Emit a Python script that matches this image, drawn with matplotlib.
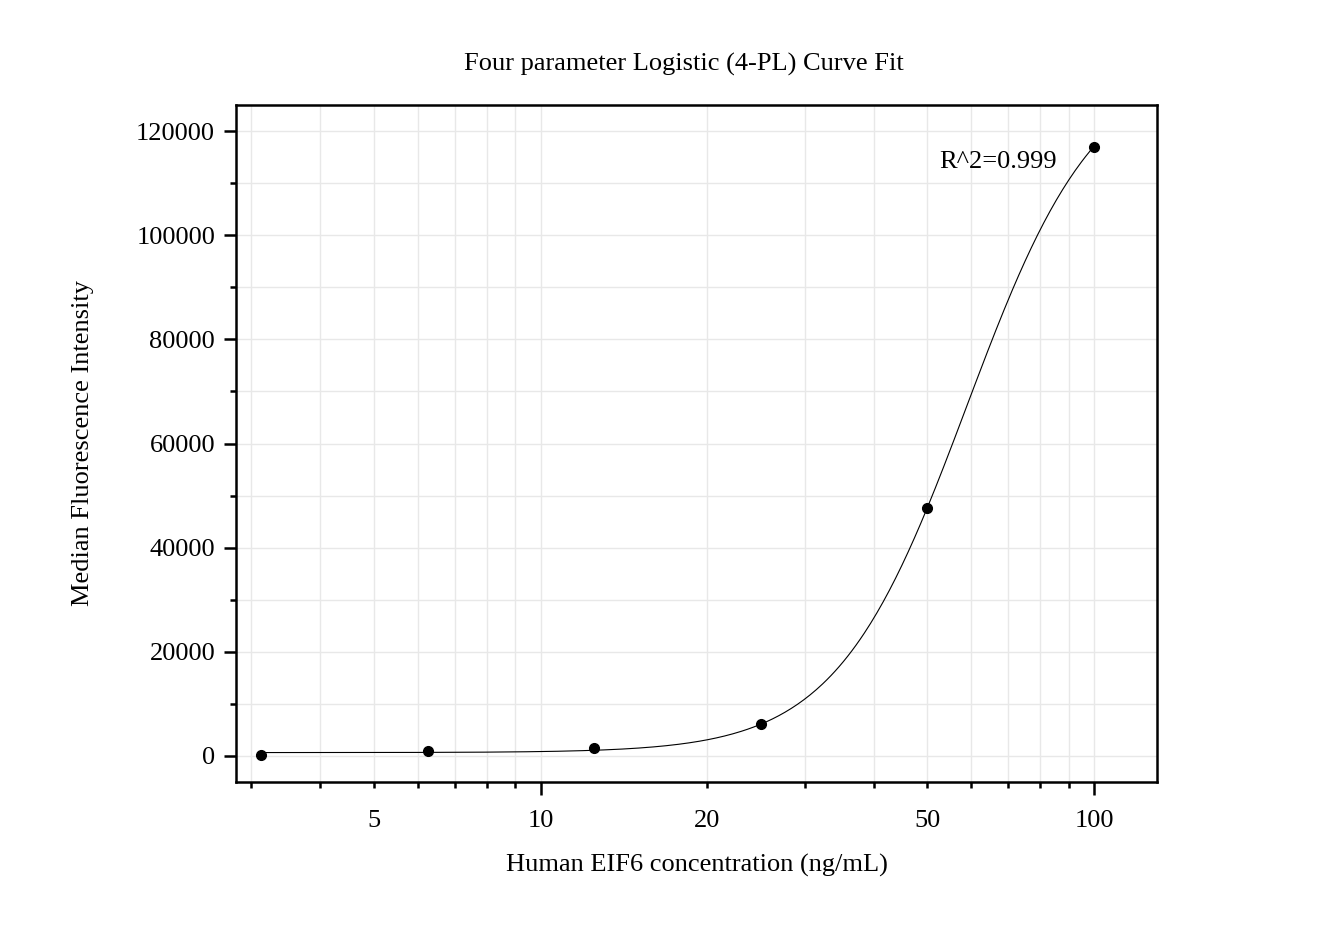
import numpy as np
import matplotlib.pyplot as plt
from matplotlib.ticker import FixedLocator, FuncFormatter, MultipleLocator

# measured standards
conc = [3.125, 6.25, 12.5, 25, 50, 100]
mfi = [150, 1000, 1500, 6100, 47700, 117000]

# 4PL fit parameters (bottom, top, ec50, hill)
A = 650
D = 133650
C = 58.9
B = 3.68
r2_text = "R^2=0.999"

x_labels = [5, 10, 20, 50, 100]

plt.rcParams['font.family'] = ['Liberation Serif', 'DejaVu Serif']
fs = 19

fig = plt.figure(figsize=(13.38, 9.34), dpi=100)
ax = fig.add_axes([236 / 1338, 1 - 782 / 934, (1157 - 236) / 1338, (782 - 105) / 934])

xs = np.logspace(np.log10(conc[0]), np.log10(conc[-1]), 400)
ys = D + (A - D) / (1 + (xs / C) ** B)
ax.plot(xs, ys, color='black', lw=0.8, zorder=3)
ax.plot(conc, mfi, 'o', color='black', ms=7, zorder=4)

ax.set_xscale('log')
ax.set_xlim(2.816, 130)
ax.set_ylim(-5000, 125000)

ax.xaxis.set_major_locator(FixedLocator([10, 100]))
minors = [m * 10 ** e for e in (0, 1) for m in range(2, 10)]
ax.xaxis.set_minor_locator(FixedLocator(minors))
lab = lambda v, p: f"{v:g}" if round(v) in x_labels else ""
ax.xaxis.set_major_formatter(FuncFormatter(lab))
ax.xaxis.set_minor_formatter(FuncFormatter(lab))

ax.yaxis.set_major_locator(MultipleLocator(20000))
ax.yaxis.set_minor_locator(MultipleLocator(10000))
ax.yaxis.set_major_formatter(FuncFormatter(lambda v, p: f"{v:.0f}"))

ax.tick_params(which='major', direction='out', length=9, width=1.8, labelsize=fs, pad=6)
ax.tick_params(axis='x', which='major', pad=11)
ax.tick_params(axis='x', which='minor', direction='out', length=4.5, width=1.8, labelsize=fs, pad=15.5)
ax.tick_params(axis='y', which='minor', direction='out', length=4.5, width=1.8, labelleft=False)
ax.tick_params(top=False, right=False)

ax.grid(True, which='both', color='#e8e8e8', lw=1, zorder=0)
ax.set_axisbelow(True)
for s in ax.spines.values():
    s.set_linewidth(1.8)

ax.text(52.5, 114000, r2_text, fontsize=fs, ha='left', va='center')

ax.set_title("Four parameter Logistic (4-PL) Curve Fit", fontsize=fs, pad=25, x=0.486)
ax.set_xlabel("Human EIF6 concentration (ng/mL)", fontsize=fs, labelpad=16)
ax.set_ylabel("Median Fluorescence Intensity", fontsize=fs, labelpad=30)

fig.savefig("out.png", dpi=100)
